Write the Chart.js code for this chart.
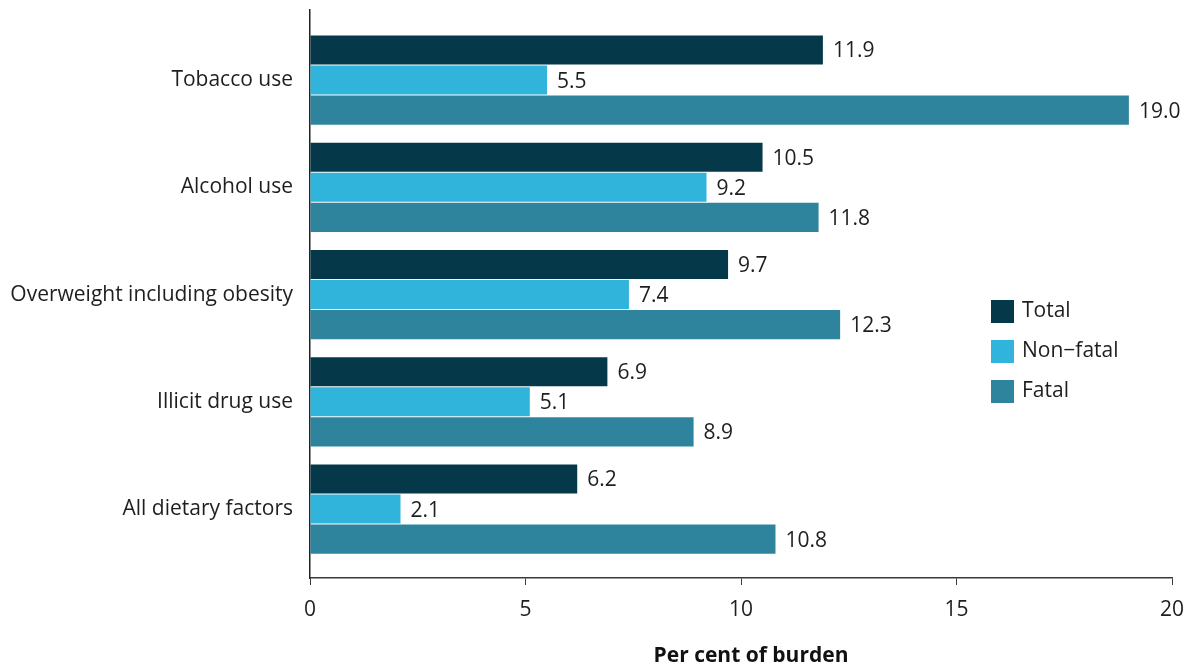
<!DOCTYPE html>
<html>
<head>
<meta charset="utf-8">
<script src="https://cdn.jsdelivr.net/npm/chart.js@4/dist/chart.umd.min.js"></script>
<style>
  html, body { margin: 0; padding: 0; background: #fff; }
  #wrap { width: 1189px; height: 668px; position: relative; }
</style>
</head>
<body>
<div id="wrap"><canvas id="burden"></canvas></div>
<script>
const categories = [
  "Tobacco use",
  "Alcohol use",
  "Overweight including obesity",
  "Illicit drug use",
  "All dietary factors",
];
const seriesNames = ["Total", "Non\u2212fatal", "Fatal"];
const totalValues = [11.9, 10.5, 9.7, 6.9, 6.2];
const nonFatalValues = [5.5, 9.2, 7.4, 5.1, 2.1];
const fatalValues = [19.0, 11.8, 12.3, 8.9, 10.8];
const xTicks = [0, 5, 10, 15, 20];
const xTitle = "Per cent of burden";

const colors = ["#053949", "#31b4dc", "#2e849d"];
const textColor = "#1e1e1e";
const axisColor = "#3a3a3a";
const fontFamily = "'Open Sans', 'Noto Sans', sans-serif";
const fontSize = 21;

// bars sit on a numeric index axis so the band spacing can be tuned
function toPoints(values) {
  return values.map((v, i) => ({ x: v, y: i }));
}

const seriesValues = [totalValues, nonFatalValues, fatalValues];
const datasets = seriesValues.map((vals, k) => ({
  label: seriesNames[k],
  data: toPoints(vals),
  backgroundColor: colors[k],
  borderWidth: 0,
  categoryPercentage: 0.84,
  barPercentage: 0.97,
}));

// value labels at the end of each bar
const valueLabels = {
  id: "valueLabels",
  afterDatasetsDraw(chart) {
    const ctx = chart.ctx;
    ctx.save();
    ctx.font = fontSize + "px " + fontFamily;
    ctx.fillStyle = textColor;
    ctx.textAlign = "left";
    ctx.textBaseline = "middle";
    chart.data.datasets.forEach((ds, di) => {
      chart.getDatasetMeta(di).data.forEach((bar, i) => {
        ctx.fillText(ds.data[i].x.toFixed(1), bar.x + 10, bar.y + 1.5);
      });
    });
    ctx.restore();
  },
};

// legend box drawn inside the plot, right of the bars, plus the x title
const sideLegend = {
  id: "sideLegend",
  afterDraw(chart) {
    const ctx = chart.ctx;
    const x0 = 991, y0 = 300, box = 23, gap = 40;
    ctx.save();
    ctx.font = fontSize + "px " + fontFamily;
    ctx.textAlign = "left";
    ctx.textBaseline = "middle";
    chart.data.datasets.forEach((ds, i) => {
      const y = y0 + i * gap;
      ctx.fillStyle = ds.backgroundColor;
      ctx.fillRect(x0, y, box, box);
      ctx.fillStyle = textColor;
      ctx.fillText(ds.label, x0 + 31, y + box / 2);
    });
    // axis title sits a little right of the plot centre
    ctx.font = "bold " + fontSize + "px " + fontFamily;
    ctx.fillStyle = "#111";
    ctx.textAlign = "center";
    ctx.fillText(xTitle, 751, 656);
    ctx.restore();
  },
};

new Chart(document.getElementById("burden"), {
  type: "bar",
  data: { datasets: datasets },
  options: {
    indexAxis: "y",
    responsive: true,
    maintainAspectRatio: false,
    animation: false,
    layout: { padding: { left: 10, right: 17, top: 10, bottom: 0 } },
    plugins: {
      legend: { display: false },
      tooltip: { enabled: false },
    },
    scales: {
      x: {
        type: "linear",
        min: xTicks[0],
        max: xTicks[xTicks.length - 1],
        afterBuildTicks: (s) => { s.ticks = xTicks.map((v) => ({ value: v })); },
        afterFit: (s) => { s.height = 90; s.paddingLeft = 0; s.paddingRight = 0; },
        grid: { drawOnChartArea: false, drawTicks: true, tickLength: 7, color: axisColor },
        border: { display: true, color: axisColor, width: 1.5 },
        ticks: { color: textColor, font: { family: fontFamily, size: fontSize }, padding: 12 },
      },
      y: {
        type: "linear",
        reverse: true,
        offset: false,
        min: -0.653,
        max: 4.643,
        afterBuildTicks: (s) => { s.ticks = categories.map((c, i) => ({ value: i })); },
        afterFit: (s) => { s.width = 300; s.paddingTop = 0; s.paddingBottom = 0; },
        grid: { display: false, drawTicks: false, offset: false },
        border: { display: true, color: "#222", width: 1.5 },
        ticks: {
          color: textColor,
          font: { family: fontFamily, size: fontSize },
          padding: 17,
          callback: (v) => categories[v] ?? "",
        },
      },
    },
  },
  plugins: [valueLabels, sideLegend],
});
</script>
</body>
</html>
